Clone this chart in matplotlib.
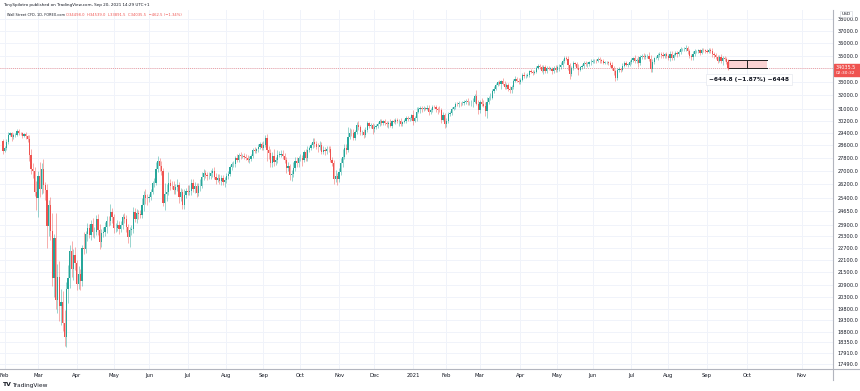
import numpy as np
import pandas as pd
import matplotlib
matplotlib.use("Agg")
import matplotlib.pyplot as plt
from matplotlib.lines import Line2D
from matplotlib.patches import Rectangle
from matplotlib.ticker import FixedLocator, FixedFormatter, NullLocator

# ---------------------------------------------------------------------------
#  DATA  (Wall Street CFD, daily, 31 Jan 2020 -> 20 Sep 2021)
# ---------------------------------------------------------------------------

first_open = 28859.0

closes = [
    28256,                                                                      # 2020 Jan 31
    28399, 28807, 29290, 29380, 29102, 29276, 29276, 29551, 29423, 29398,      # Feb
    29232, 29348, 29219, 28992, 27961, 27081, 26957, 25766, 25409,
    26703, 25917, 27091, 26121, 25865, 23851, 25018, 23553, 21200, 23186,      # Mar
    20189, 21237, 19899, 20087, 19174, 18592, 20705, 21200, 22552, 21637, 22328, 21917,
    20944, 21413, 21053, 22680, 22654, 23434, 23719, 23390, 23950, 23505,      # Apr
    23538, 24242, 23650, 23019, 23475, 23516, 23775, 24134, 24102, 24634, 24346,
    23724, 23750, 23883, 23665, 23876, 24331, 24222, 23765, 23248, 23625,      # May
    23685, 24598, 24207, 24576, 24474, 24465, 24995, 25548, 25401, 25383,
    25475, 25742, 26270, 26282, 27111, 27572, 27272, 26990, 25128, 25606,      # Jun
    25763, 26290, 26120, 26080, 25871, 26025, 26156, 25446, 25745, 25016, 25596, 25813,
    25735, 25827, 26287, 25891, 26067, 25706, 26075, 26086, 26643, 26870,      # Jul
    26735, 26672, 26681, 26840, 27006, 26652, 26470, 26585, 26380, 26540, 26314, 26428,
    26665, 26828, 27202, 27387, 27433, 27791, 27687, 27977, 27897, 27931,      # Aug
    27844, 27779, 27693, 27740, 27931, 28308, 28249, 28332, 28493, 28654, 28430,
    28646, 29100, 28293, 28133, 27501, 27940, 27535, 27666, 27993, 27996,      # Sep
    28033, 27902, 27657, 27148, 27288, 26763, 26815, 27174, 27584, 27452, 27782,
    27817, 27683, 28149, 27773, 28304, 28426, 28587, 28838, 28680, 28515,      # Oct
    28494, 28606, 28196, 28309, 28211, 28364, 28336, 27686, 27464, 26520, 26660, 26502,
    26925, 27481, 27848, 28390, 28323, 29158, 29421, 29398, 29080, 29480,      # Nov
    29950, 29784, 29438, 29483, 29263, 29592, 30046, 29873, 29910, 29639,
    29824, 29884, 29970, 30218, 30070, 30174, 30069, 29999, 30046, 29862,      # Dec
    30200, 30155, 30304, 30179, 30216, 30016, 30130, 30200, 30404, 30336, 30410, 30606,
    30224, 30392, 30829, 31041, 31098, 30998, 31068, 31061, 31112, 30814,      # 2021 Jan
    30931, 31188, 31176, 30997, 30960, 30937, 30303, 30604, 29983,
    30212, 30688, 30724, 31056, 31148, 31386, 31376, 31438, 31431, 31458,      # Feb
    31523, 31613, 31494, 31494, 31522, 31537, 31962, 31402, 30932,
    31535, 31392, 31270, 30924, 31496, 31802, 31833, 32297, 32486, 32779,      # Mar
    32953, 32826, 33015, 32862, 32628, 32732, 32423, 32420, 32619, 33073, 33171, 33067, 32982,
    33153, 33527, 33430, 33446, 33504, 33801, 33746, 33677, 33730, 34036,      # Apr
    34200, 34078, 33821, 34137, 33815, 34043, 33981, 33984, 33820, 34060, 33875,
    34113, 34133, 34230, 34548, 34778, 34743, 34270, 33587, 34021, 34382,      # May
    34327, 34060, 33896, 34084, 34208, 34394, 34312, 34323, 34465, 34529,
    34575, 34600, 34577, 34756, 34630, 34600, 34447, 34466, 34480, 34394,      # Jun
    34299, 34033, 33823, 33290, 33877, 33945, 33874, 34196, 34433, 34283, 34292, 34503,
    34633, 34786, 34577, 34681, 34422, 34870, 34996, 34889, 34933, 34987,      # Jul
    34688, 33962, 34511, 34798, 34823, 35062, 35144, 35058, 34931, 35085, 34935,
    34838, 35117, 34793, 35065, 35209, 35102, 35265, 35485, 35500, 35516,      # Aug
    35625, 35343, 34961, 34894, 35120, 35336, 35367, 35406, 35214, 35456, 35400, 35361,
    35313, 35444, 35369, 35100, 35031, 34879, 34608, 34870, 34578, 34814,      # Sep
    34751, 34498, 34035.5,
]

# wick length beyond the candle body, in points
wick_up = [
    150,
    120, 180, 150, 90, 60, 120, 150, 80, 110, 60,
    90, 80, 110, 70, 260, 380, 420, 300, 620,
    260, 820, 390, 620, 210, 350, 290, 420, 980, 240,
    1350, 660, 780, 620, 520, 560, 330, 640, 280, 520, 310, 420,
    180, 380, 230, 180, 820, 160, 280, 250, 220, 330,
    240, 180, 260, 310, 210, 260, 260, 280, 260, 420, 220,
    170, 230, 310, 220, 250, 160, 200, 210, 180, 150,
    210, 280, 230, 190, 140, 230, 420, 230, 340, 200,
    160, 200, 140, 310, 420, 350, 240, 330, 170, 680,
    450, 640, 200, 260, 330, 200, 350, 160, 230, 190, 340, 150,
    320, 330, 200, 220, 270, 190, 220, 440, 260, 230,
    180, 170, 240, 230, 170, 250, 200, 200, 230, 220, 210, 180,
    190, 160, 150, 140, 150, 150, 280, 140, 200, 110,
    160, 170, 180, 150, 120, 140, 150, 120, 180, 160, 180,
    200, 180, 240, 230, 220, 210, 420, 200, 270, 260,
    250, 290, 180, 200, 240, 150, 250, 380, 260, 250, 160,
    210, 180, 160, 230, 220, 130, 160, 250, 230, 180,
    210, 250, 180, 270, 150, 180, 190, 210, 150, 220, 380, 210,
    220, 320, 480, 270, 260, 650, 310, 230, 240, 130,
    200, 220, 180, 130, 210, 230, 180, 110, 180, 160,
    160, 120, 150, 120, 100, 120, 160, 140, 140, 260,
    100, 160, 130, 120, 100, 180, 90, 110, 170, 110, 100, 110,
    330, 160, 330, 140, 120, 110, 140, 120, 200, 190,
    160, 110, 120, 150, 150, 250, 180, 240, 180,
    210, 130, 180, 90, 120, 160, 120, 150, 120, 130,
    150, 120, 200, 130, 140, 240, 130, 400, 250,
    130, 250, 300, 280, 350, 160, 370, 160, 180, 130,
    90, 200, 120, 260, 200, 160, 170, 260, 150, 140, 220, 180, 230,
    110, 150, 170, 110, 170, 100, 130, 130, 140, 140,
    120, 100, 160, 110, 140, 160, 130, 120, 100, 150, 190,
    170, 180, 230, 160, 160, 200, 180, 180, 170, 200,
    140, 160, 300, 130, 160, 170, 140, 170, 140, 170,
    150, 140, 110, 160, 140, 130, 140, 140, 90, 110,
    170, 210, 120, 110, 120, 140, 120, 210, 170, 130, 110, 120,
    140, 130, 230, 130, 250, 150, 130, 180, 190, 170,
    270, 330, 200, 120, 130, 140, 130, 160, 200, 120, 230,
    150, 220, 220, 140, 120, 120, 160, 200, 110, 150,
    180, 140, 180, 190, 210, 150, 110, 150, 130, 160, 120, 130,
    130, 150, 150, 250, 190, 190, 190, 200, 270, 180,
    150, 120, 41,
]

wick_dn = [
    200,
    90, 100, 140, 110, 260, 90, 150, 100, 180, 110,
    170, 90, 220, 160, 340, 260, 400, 260, 690,
    1080, 470, 280, 430, 600, 1150, 560, 430, 370, 890,
    420, 600, 650, 820, 360, 380, 420, 650, 480, 380, 510, 320,
    320, 260, 390, 220, 280, 240, 360, 190, 290, 250,
    320, 190, 310, 360, 270, 190, 220, 320, 260, 210, 330,
    260, 190, 180, 230, 160, 180, 230, 260, 320, 500,
    260, 210, 140, 210, 250, 200, 190, 310, 330, 360,
    210, 170, 140, 220, 160, 170, 300, 220, 160, 430,
    360, 190, 260, 170, 220, 240, 210, 310, 220, 220, 260, 210,
    190, 150, 250, 140, 230, 260, 180, 260, 130, 180,
    190, 210, 190, 180, 210, 140, 240, 160, 170, 230, 180, 290,
    160, 130, 120, 130, 170, 180, 120, 120, 140, 130,
    110, 110, 130, 200, 120, 130, 140, 170, 140, 140, 120,
    160, 130, 700, 380, 250, 260, 220, 190, 170, 170,
    140, 170, 150, 300, 170, 340, 350, 170, 160, 190, 250,
    160, 400, 160, 150, 160, 160, 120, 150, 170, 180,
    330, 170, 170, 150, 260, 170, 180, 140, 180, 300, 210, 330,
    160, 170, 280, 140, 270, 160, 160, 180, 170, 170,
    130, 200, 170, 200, 220, 140, 120, 140, 140, 330,
    150, 170, 140, 120, 130, 150, 120, 200, 290, 90,
    130, 100, 150, 100, 290, 150, 120, 80, 130, 110, 130, 130,
    270, 120, 170, 80, 270, 160, 110, 100, 120, 190,
    110, 120, 110, 210, 270, 120, 240, 100, 240,
    160, 140, 160, 120, 80, 90, 160, 220, 180, 90,
    170, 170, 150, 190, 240, 380, 60, 60, 250,
    170, 160, 130, 400, 520, 140, 140, 130, 140, 120,
    110, 90, 380, 110, 150, 190, 110, 220, 240, 150, 110, 110, 190,
    160, 120, 170, 140, 110, 120, 120, 160, 110, 110,
    100, 120, 130, 230, 150, 150, 100, 110, 250, 160, 160,
    160, 320, 200, 120, 160, 130, 400, 380, 130, 160,
    140, 140, 410, 130, 100, 170, 100, 180, 140, 170,
    110, 130, 200, 120, 190, 160, 140, 130, 150, 120,
    160, 140, 300, 220, 160, 140, 160, 100, 110, 120, 140, 110,
    170, 130, 200, 180, 310, 130, 120, 190, 130, 140,
    140, 270, 210, 140, 110, 190, 160, 250, 130, 150, 160,
    190, 230, 130, 120, 140, 190, 120, 180, 100, 130,
    140, 230, 190, 220, 250, 170, 170, 190, 150, 120, 110, 150,
    150, 110, 150, 240, 210, 130, 170, 150, 150, 280,
    200, 170, 144,
]

holidays = ["2020-02-17", "2020-04-10", "2020-05-25", "2020-07-03", "2020-09-07",
            "2020-11-26", "2020-12-25", "2021-01-01", "2021-01-18", "2021-02-15",
            "2021-04-02", "2021-05-31", "2021-07-05", "2021-09-06"]

price_ticks = [17490, 17910, 18350, 18800, 19300, 19800, 20300, 20900, 21500, 22100,
               22700, 23300, 23900, 24650, 25400, 26200, 27000, 27800, 28600, 29400,
               30200, 31000, 32000, 33000, 34000, 35000, 36000, 37000, 38000]

measure_from = 34680.3
measure_text = "\u2212644.8 (\u22121.87%) \u22126448"
future_months = ["2021-10-01", "2021-11-01"]

UP = "#26a69a"
DOWN = "#ef5350"
GRID = "#f0f3fa"
TEXT = "#131722"

assert len(wick_up) == len(closes) and len(wick_dn) == len(closes)

# ---------------------------------------------------------------------------
#  CANDLES
# ---------------------------------------------------------------------------

closes = np.array(closes, dtype=float)
opens = np.concatenate([[first_open], closes[:-1]])
highs = np.maximum(opens, closes) + np.array(wick_up)
lows = np.minimum(opens, closes) - np.array(wick_dn)

bday = pd.offsets.CustomBusinessDay(holidays=holidays)
dates = pd.date_range("2020-01-31", periods=len(closes), freq=bday)
x = np.arange(len(closes))
last = len(closes) - 1

W, H = 860, 391
fig = plt.figure(figsize=(W / 100, H / 100), dpi=100)
fig.patch.set_facecolor("white")
ax = fig.add_axes([0, (H - 369) / H, 833 / W, (369 - 10) / H])

ax.set_yscale("log")
ax.set_ylim(17281, 38777)
ax.set_xlim(-1.65, 471.6)

for mask, col in [(closes >= opens, UP), (closes < opens, DOWN)]:
    ax.vlines(x[mask], lows[mask], highs[mask], color=col, lw=0.6, alpha=0.55, zorder=3)
    body_lo = np.minimum(opens, closes)[mask]
    body_h = np.maximum(np.abs(closes - opens)[mask], 18)
    ax.bar(x[mask], body_h, bottom=body_lo, width=0.7, color=col, linewidth=0, zorder=4)

# month ticks
mt_pos, mt_lab = [], []
for i in range(1, len(dates)):
    if dates[i].month != dates[i - 1].month:
        mt_pos.append(i)
        mt_lab.append(str(dates[i].year) if dates[i].month == 1 else dates[i].strftime("%b"))
for d in future_months:
    d = pd.Timestamp(d)
    mt_pos.append(last + (d - dates[-1]).days)
    mt_lab.append(d.strftime("%b"))

ax.xaxis.set_major_locator(FixedLocator(mt_pos))
ax.xaxis.set_major_formatter(FixedFormatter(mt_lab))
ax.yaxis.set_major_locator(FixedLocator(price_ticks))
ax.yaxis.set_major_formatter(FixedFormatter(["" if p == 34000 else "%.1f" % p for p in price_ticks]))
ax.yaxis.set_minor_locator(NullLocator())
ax.yaxis.tick_right()
ax.tick_params(axis="y", length=0, pad=3.5, labelsize=3.6, labelcolor=TEXT)
ax.tick_params(axis="x", length=0, pad=3, labelsize=3.8, labelcolor=TEXT)
ax.grid(True, color=GRID, lw=0.7, zorder=0)
for s in ax.spines.values():
    s.set_visible(False)

# last price line
ax.axhline(closes[-1], color=DOWN, lw=0.6, ls=(0, (1, 1.5)), alpha=0.7, zorder=2)

# measure tool
ax.add_patch(Rectangle((last, closes[-1]), 22, measure_from - closes[-1],
                       facecolor="#fbd3d3", edgecolor="none", zorder=5))
ax.plot([last, last + 22], [measure_from] * 2, color="#222222", lw=0.7, zorder=6)
ax.plot([last, last + 22], [closes[-1]] * 2, color="#222222", lw=0.7, zorder=6)
ax.plot([last, last], [closes[-1], measure_from], color=DOWN, lw=0.9, zorder=6)
ax.plot([last + 11, last + 11], [closes[-1], measure_from], color="#222222", lw=0.7, zorder=6)
ax.text(last + 12, 33150, measure_text,
        fontsize=4.2, fontweight="bold", color=TEXT, ha="center", va="center", zorder=7,
        bbox=dict(boxstyle="square,pad=0.5", fc="white", ec="#e0e3eb", lw=0.4))

# ---------------------------------------------------------------------------
#  FRAME, PRICE LABEL, HEADERS
# ---------------------------------------------------------------------------

fig.add_artist(Line2D([833 / W, 833 / W], [1 - 10 / H, 1 - 380 / H], color="#b2b5be", lw=0.8))
fig.add_artist(Line2D([0, 1], [1 - 369 / H] * 2, color="#b2b5be", lw=0.8))

fig.add_artist(Rectangle((834 / W, 1 - 76 / H), 26 / W, 12 / H, color=DOWN, transform=fig.transFigure))
fig.text(846 / W, 1 - 67.5 / H, "%.1f" % closes[-1], color="white", fontsize=3.5,
         ha="center", va="center")
fig.text(846 / W, 1 - 73 / H, "02:30:32", color="white", fontsize=3.2, ha="center", va="center")
fig.text(846 / W, 1 - 14 / H, "USD", color=TEXT, fontsize=3.2, ha="center", va="center",
         bbox=dict(boxstyle="square,pad=0.3", fc="white", ec="#d1d4dc", lw=0.4))

fig.text(3 / W, 1 - 5 / H, "TonySpilotro published on TradingView.com, Sep 20, 2021 14:29 UTC+1",
         color=TEXT, fontsize=3.0, va="center")
fig.text(7 / W, 1 - 14.5 / H, "Wall Street CFD, 1D, FOREX.com", color=TEXT, fontsize=2.5, va="center")
fig.text(66 / W, 1 - 14.5 / H,
         "O34498.0  H34539.0  L33891.5  C34035.5  \u2212462.5 (\u22121.34%)",
         color=DOWN, fontsize=2.7, va="center")
fig.text(3 / W, 1 - 385 / H, "TV", color=TEXT, fontsize=4.4, fontweight="bold", va="center")
fig.text(12 / W, 1 - 385 / H, "TradingView", color=TEXT, fontsize=4.2, va="center")

fig.savefig("out.png", dpi=100, facecolor="white")
